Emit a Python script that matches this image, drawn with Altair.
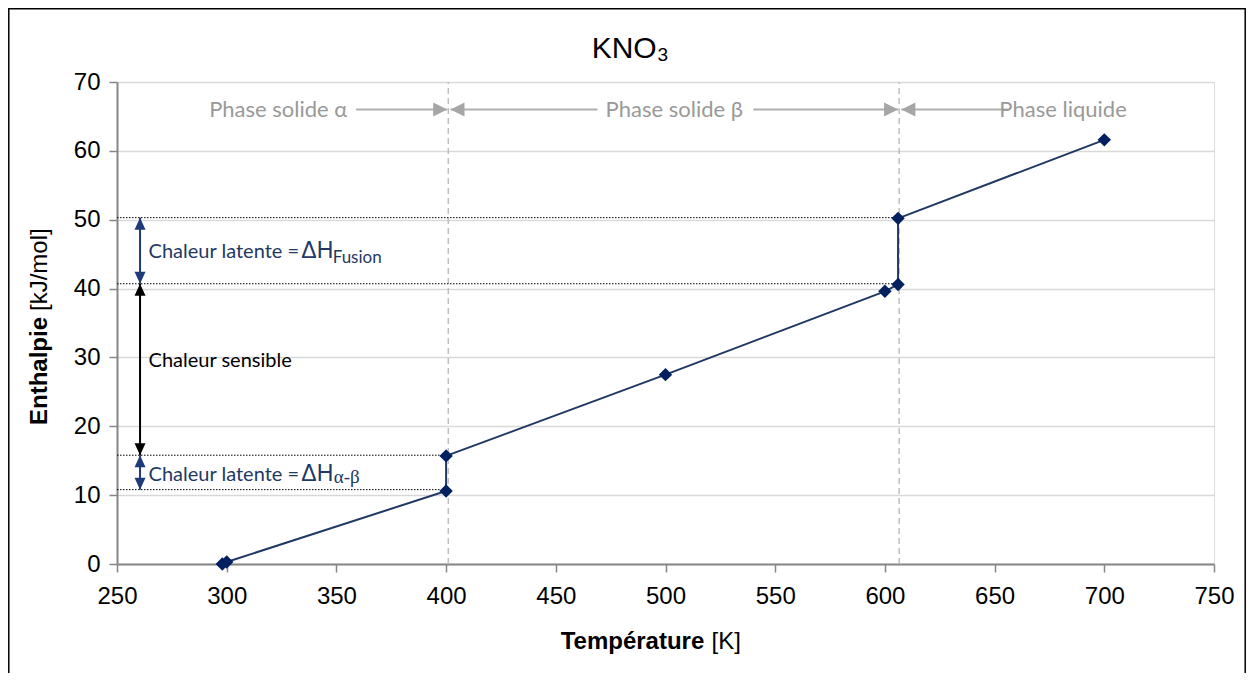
import altair as alt
import pandas as pd

# ---- data ----
T = [298, 300, 400, 400, 500, 600, 606, 606, 700]
H = [0.0, 0.3, 10.6, 15.7, 27.5, 39.6, 40.6, 50.2, 61.6]

x_ticks = list(range(250, 751, 50))
y_ticks = list(range(0, 71, 10))

transitions = [401, 606.5]
levels = [50.3, 40.7, 15.8, 10.8]
level_end = [606, 606, 400, 400]

arrow_x = 260.5
arr_top = [50.3, 40.7, 15.8]
arr_bot = [40.7, 15.8, 10.8]
arr_col = ["#1f3a78", "#000000", "#1f3a78"]

phase_labels = ["Phase solide α", "Phase solide β", "Phase liquide"]
phase_x = [323.5, 504.0, 681.2]
phase_y = 66.0
seg_x1 = [359.0, 402.0, 540.0, 607.5]
seg_x2 = [400.5, 469.0, 606.0, 656.0]
head_x = [400.5, 402.0, 606.0, 607.5]
head_dir = ["r", "l", "r", "l"]

BLUE = "#1f3864"
SANS = "Liberation Sans"
CAL = "Lato"

df = pd.DataFrame({"T": T, "H": H, "i": list(range(len(T)))})

xs = alt.Scale(domain=[250, 750], nice=False, zero=False)
ys = alt.Scale(domain=[0, 70], nice=False)

xax = alt.Axis(values=x_ticks, title=None, grid=False, labelFontSize=24, labelFont=SANS,
               labelColor="#000", domainColor="#868686", domainWidth=2, tickColor="#868686",
               tickWidth=1.5, tickSize=8, labelPadding=12, labelFlush=False)
yax = alt.Axis(values=y_ticks, title=None, grid=True, gridColor="#d9d9d9", gridWidth=1.5,
               labelFontSize=24, labelFont=SANS, labelColor="#000", domainColor="#868686",
               domainWidth=2, tickColor="#868686", tickWidth=1.5, tickSize=8, labelPadding=9)

base = alt.Chart(df)

line = base.mark_line(color=BLUE, strokeWidth=2).encode(
    x=alt.X("T:Q", scale=xs, axis=xax),
    y=alt.Y("H:Q", scale=ys, axis=yax),
    order="i:Q",
)
pts = base.mark_point(shape="diamond", filled=True, size=180, color="#002060", opacity=1).encode(
    x=alt.X("T:Q", scale=xs), y=alt.Y("H:Q", scale=ys)
)

# dashed phase transition verticals
vdf = pd.DataFrame({"x": transitions, "y0": [0, 0], "y1": [70, 70]})
vlines = alt.Chart(vdf).mark_rule(color="#bfbfbf", strokeWidth=1.5, strokeDash=[6, 4]).encode(
    x=alt.X("x:Q", scale=xs), y=alt.Y("y0:Q", scale=ys), y2="y1:Q"
)

# dotted levels
ldf = pd.DataFrame({"y": levels, "x0": [250] * 4, "x1": level_end})
dots = alt.Chart(ldf).mark_rule(color="#000", strokeWidth=1, strokeDash=[1.5, 1.5]).encode(
    x=alt.X("x0:Q", scale=xs), x2="x1:Q", y=alt.Y("y:Q", scale=ys)
)

# double arrows
adf = pd.DataFrame({"x": [arrow_x] * 3, "top": arr_top, "bot": arr_bot, "c": arr_col})
shafts = alt.Chart(adf).mark_rule(strokeWidth=2).encode(
    x=alt.X("x:Q", scale=xs), y=alt.Y("top:Q", scale=ys), y2="bot:Q",
    color=alt.Color("c:N", scale=None),
)
UP = "M0,0L-0.55,1.2L0.55,1.2Z"
DOWN = "M0,0L-0.55,-1.2L0.55,-1.2Z"
heads_up = alt.Chart(adf).mark_point(shape=UP, filled=True, size=400, opacity=1, strokeWidth=0).encode(
    x=alt.X("x:Q", scale=xs), y=alt.Y("top:Q", scale=ys), color=alt.Color("c:N", scale=None)
)
heads_dn = alt.Chart(adf).mark_point(shape=DOWN, filled=True, size=400, opacity=1, strokeWidth=0).encode(
    x=alt.X("x:Q", scale=xs), y=alt.Y("bot:Q", scale=ys), color=alt.Color("c:N", scale=None)
)

# phase labels + arrows
pdf = pd.DataFrame({"x": phase_x, "y": [phase_y] * 3, "t": phase_labels})
ptext = alt.Chart(pdf).mark_text(font=CAL, fontSize=22, color="#999999", baseline="middle", align="center").encode(
    x=alt.X("x:Q", scale=xs), y=alt.Y("y:Q", scale=ys), text="t:N"
)
sdf = pd.DataFrame({"x1": seg_x1, "x2": seg_x2, "y": [phase_y] * 4})
psegs = alt.Chart(sdf).mark_rule(color="#b0b0b0", strokeWidth=2).encode(
    x=alt.X("x1:Q", scale=xs), x2="x2:Q", y=alt.Y("y:Q", scale=ys)
)
RIGHT = "M0,0L-1.4,-0.7L-1.4,0.7Z"
LEFT = "M0,0L1.4,-0.7L1.4,0.7Z"
hdf = pd.DataFrame({"x": head_x, "y": [phase_y] * 4, "d": head_dir})
hr = alt.Chart(hdf[hdf.d == "r"]).mark_point(shape=RIGHT, filled=True, size=400, color="#a6a6a6", opacity=1, strokeWidth=0).encode(
    x=alt.X("x:Q", scale=xs), y=alt.Y("y:Q", scale=ys)
)
hl = alt.Chart(hdf[hdf.d == "l"]).mark_point(shape=LEFT, filled=True, size=400, color="#a6a6a6", opacity=1, strokeWidth=0).encode(
    x=alt.X("x:Q", scale=xs), y=alt.Y("y:Q", scale=ys)
)

# annotation texts (data coords)
def txt(x, y, t, font, size, color, weight="normal"):
    d = pd.DataFrame({"x": [x], "y": [y], "t": [t]})
    return alt.Chart(d).mark_text(font=font, fontSize=size, color=color, align="left",
                                  baseline="alphabetic", fontWeight=weight).encode(
        x=alt.X("x:Q", scale=xs), y=alt.Y("y:Q", scale=ys), text="t:N")

a1 = txt(264.4, 44.4, "Chaleur latente =", CAL, 20, BLUE)
a1d = txt(334.0, 44.4, "ΔH", SANS, 23, BLUE)
a1s = txt(348.3, 43.7, "Fusion", CAL, 17, BLUE)
a2 = txt(264.4, 28.6, "Chaleur sensible", CAL, 20, "#000")
a3 = txt(264.4, 12.05, "Chaleur latente =", CAL, 20, BLUE)
a3d = txt(334.0, 12.05, "ΔH", SANS, 23, BLUE)
a3s = txt(348.8, 11.7, "α-β", "Liberation Serif", 19, BLUE)

# pixel-positioned titles
def ptxt(x, y, t, size, weight="normal", align="left", angle=0, baseline="alphabetic"):
    d = pd.DataFrame({"t": [t]})
    return alt.Chart(d).mark_text(font=SANS, fontSize=size, color="#000", align=align, angle=angle,
                                  baseline=baseline, fontWeight=weight).encode(
        x=alt.value(x), y=alt.value(y), text="t:N")

t1 = ptxt(539.7, -24, "KNO", 30, align="right")
t2 = ptxt(540.5, -21, "3", 19)
xt1 = ptxt(443.7, 567, "Température", 24, weight="bold")
xt2 = ptxt(594.5, 567, "[K]", 24)
yt1 = ptxt(-77, 343, "Enthalpie", 24, weight="bold", angle=270, baseline="middle")
yt2 = ptxt(-77, 229, "[kJ/mol]", 24, angle=270, baseline="middle")

bdf = pd.DataFrame({"k": [0]})
border = alt.Chart(bdf).mark_rect(fill=None, stroke="#000", strokeWidth=1.5).encode(
    x=alt.value(-108.2), x2=alt.value(1128.2), y=alt.value(-73.2), y2=alt.value(700)
)

chart = alt.layer(
    border, vlines, dots, shafts, heads_up, heads_dn, psegs, hr, hl, ptext,
    line, pts, a1, a1d, a1s, a2, a3, a3d, a3s, t1, t2, xt1, xt2, yt1, yt2,
).properties(
    width=1097, height=482,
    autosize=alt.AutoSizeParams(type="none"),
    padding={"left": 109, "top": 74, "right": 32, "bottom": 109},
).configure_view(stroke="#d9d9d9", strokeWidth=1.5).configure(background="white")

chart.save("out.html", embed_options={"renderer": "svg", "actions": False})
